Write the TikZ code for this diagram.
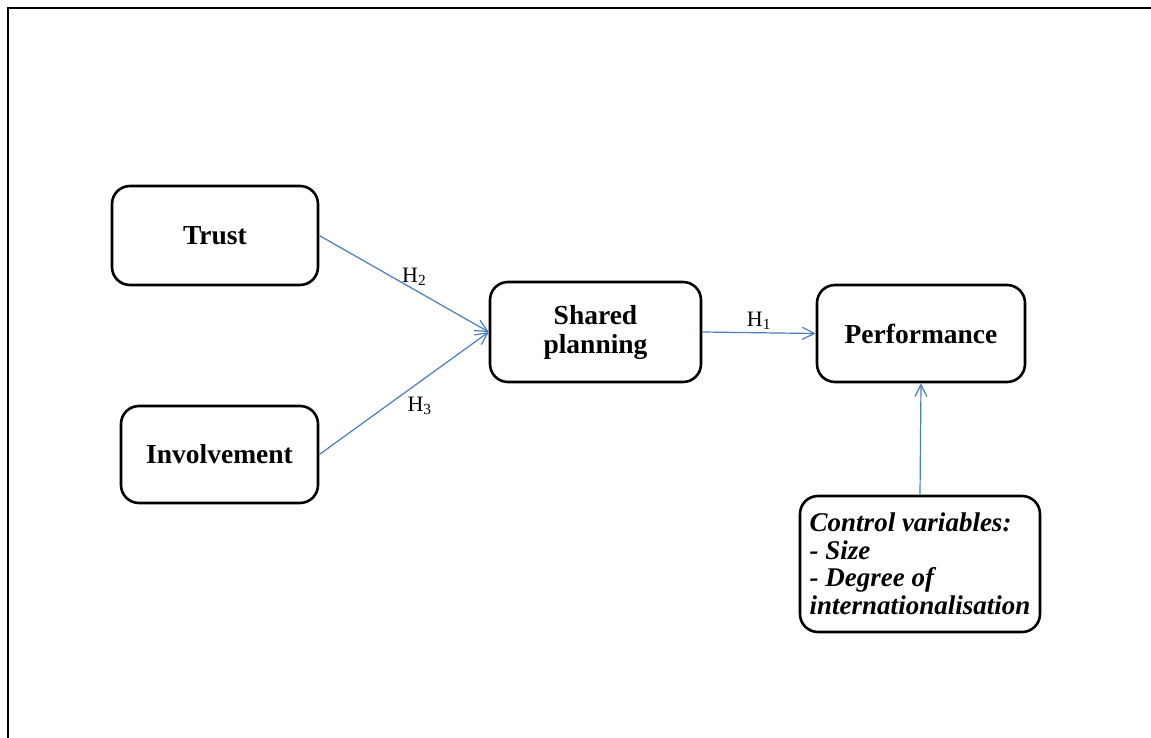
\documentclass[tikz,border=0pt]{standalone}
\usepackage{fontspec}
\setmainfont{Liberation Serif}
\usepackage{xcolor}
\usetikzlibrary{arrows.meta}
\definecolor{linkblue}{HTML}{4A7EBB}
\tikzset{
  construct/.style={draw, line width=2.6pt, rounded corners=18pt, align=center,
    font=\fontsize{27.5}{29}\selectfont\bfseries, inner sep=0pt},
  hyp/.style={linkblue, line width=1.2pt, -{Straight Barb[length=12pt,width=12pt]}},
  hlabel/.style={black, font=\fontsize{22}{24}\selectfont, inner sep=3pt}
}
\begin{document}
\begin{tikzpicture}[x=1pt,y=-1pt]
  \useasboundingbox (0,0) rectangle (1151,738);
  % Frame
  \draw[line width=2.4pt] (1160,8) -- (8,8) -- (8,745);
  % Constructs
  \node[construct, minimum width=206pt, minimum height=99pt] (trust) at (215,235.5) {Trust};
  \node[construct, minimum width=197pt, minimum height=97pt] (involve) at (219.5,454.5) {Involvement};
  \node[construct, minimum width=211pt, minimum height=100pt] (shared) at (595.5,332) {Shared\\planning};
  \node[construct, minimum width=208pt, minimum height=97pt] (perf) at (921,333.5) {Performance};
  % Control variables
  \node[construct, minimum width=240pt, minimum height=136pt, align=left,
    font=\fontsize{27}{27.5}\selectfont\bfseries\itshape, inner xsep=6pt] (ctrl) at (920,564)
    {Control variables:\\- Size\\- Degree of\\internationalisation};
  % Hypotheses
  \draw[hyp] (trust.east) -- (shared.west) node[hlabel, pos=.56, above] {H\textsubscript{2}};
  \draw[hyp] (involve.east) -- (shared.west) node[hlabel, pos=.5, below right] {H\textsubscript{3}};
  \draw[hyp] (shared.east) -- (perf.west) node[hlabel, midway, above] {H\textsubscript{1}};
  \draw[hyp] (ctrl.north) -- (perf.south);
\end{tikzpicture}
\end{document}
